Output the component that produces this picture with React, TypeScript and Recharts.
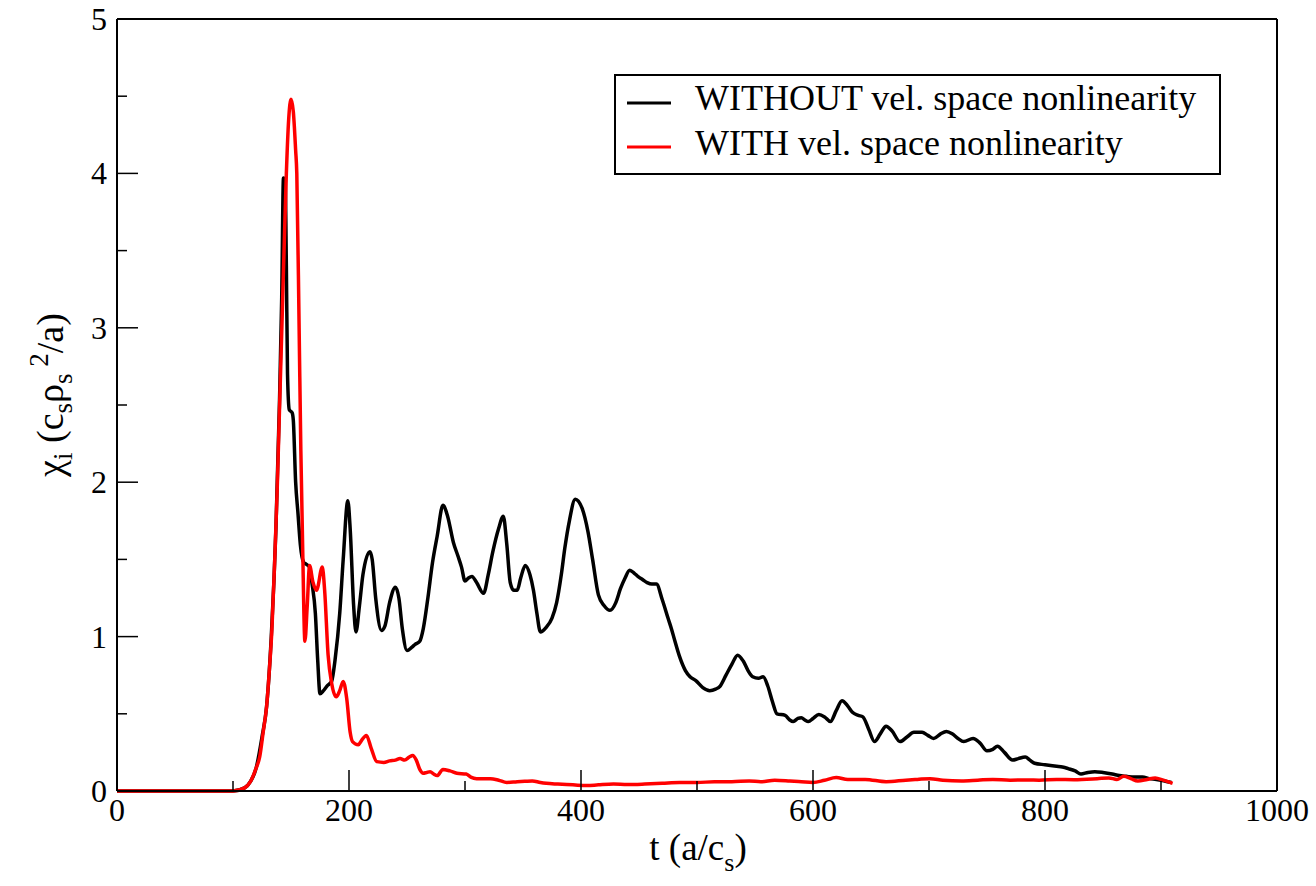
import { LineChart, Line, XAxis, YAxis, Legend, Label } from 'recharts';

// time (a/c_s) and chi_i values
const withoutT = [
    0, 100, 110, 115, 120, 125, 129, 133, 137, 140, 142, 143.5, 145, 146, 147, 148.5, 151, 152, 154, 156,
    158, 161, 163, 166, 168, 171, 173, 175, 178, 181, 185, 188, 192, 195, 199, 201, 204, 206, 209, 212,
    218, 220, 223, 228, 231, 235, 240, 243, 246, 250, 254, 257, 261, 264, 268, 272, 276, 281, 285, 290,
    294, 297, 300, 303, 306, 310, 316, 320, 324, 329, 333, 336, 339, 342, 345, 348, 352, 356, 359, 362,
    365, 370, 375, 379, 383, 386, 390, 395, 401, 406, 410, 415, 420, 425, 430, 434, 438, 442, 446, 449,
    453, 457, 461, 465, 470, 475, 478, 481, 485, 490, 494, 499, 505, 511, 516, 520, 525, 530, 535, 540,
    544, 548, 553, 557, 561, 565, 569, 576, 580, 583, 587, 590, 593, 596, 600, 605, 610, 615, 620, 625,
    630, 634, 639, 643, 648, 653, 658, 663, 668, 675, 681, 687, 694, 699, 704, 710, 715, 720, 725, 730,
    738, 744, 750, 755, 759, 765, 772, 777, 783, 787, 791, 800, 810, 815, 820, 826, 831, 837, 843, 850,
    858, 864, 870, 877, 884, 890, 896, 903, 909,
];
const withoutChi = [
    0, 0, 0.02, 0.06, 0.15, 0.35, 0.55, 1.0, 1.7, 2.5, 3.2, 3.97, 3.95, 3.4, 2.7, 2.47, 2.45, 2.4, 2.0, 1.8,
    1.6, 1.48, 1.47, 1.45, 1.35, 1.15, 0.85, 0.63, 0.65, 0.68, 0.71, 0.85, 1.15, 1.5, 1.88, 1.7, 1.2, 1.03, 1.2, 1.4,
    1.55, 1.5, 1.25, 1.04, 1.07, 1.22, 1.32, 1.25, 1.05, 0.91, 0.93, 0.95, 0.97, 1.05, 1.25, 1.48, 1.65, 1.85, 1.78, 1.61,
    1.52, 1.45, 1.36, 1.38, 1.39, 1.35, 1.28, 1.4, 1.55, 1.7, 1.78, 1.6, 1.35, 1.3, 1.3, 1.38, 1.46, 1.4, 1.3, 1.15,
    1.03, 1.06, 1.12, 1.22, 1.4, 1.57, 1.75, 1.89, 1.83, 1.68, 1.5, 1.27, 1.2, 1.17, 1.22, 1.31, 1.38, 1.43, 1.41, 1.39,
    1.37, 1.35, 1.34, 1.34, 1.24, 1.12, 1.05, 0.97, 0.87, 0.78, 0.74, 0.715, 0.67, 0.65, 0.66, 0.68, 0.75, 0.82, 0.88, 0.84,
    0.78, 0.74, 0.73, 0.74, 0.68, 0.58, 0.5, 0.49, 0.46, 0.45, 0.47, 0.475, 0.46, 0.45, 0.47, 0.495, 0.48, 0.45, 0.52, 0.585,
    0.55, 0.51, 0.49, 0.48, 0.4, 0.32, 0.37, 0.42, 0.39, 0.32, 0.35, 0.38, 0.38, 0.36, 0.34, 0.37, 0.385, 0.37, 0.34, 0.32,
    0.34, 0.31, 0.26, 0.27, 0.29, 0.25, 0.2, 0.21, 0.22, 0.2, 0.18, 0.17, 0.16, 0.155, 0.145, 0.13, 0.11, 0.12, 0.125, 0.12,
    0.11, 0.1, 0.095, 0.09, 0.09, 0.08, 0.075, 0.065, 0.055,
];

const withT = [
    0, 100, 110, 115, 120, 123, 126, 129, 131.5, 133.5, 136, 138, 140, 142, 144, 146, 148, 150, 152, 154,
    155, 157, 158.5, 160, 162, 164, 166, 169, 172, 177, 179, 182, 185, 189, 192, 195, 198, 201, 203, 208,
    211, 215, 219, 224, 230, 235, 240, 244, 248, 252, 255, 258, 261, 264, 267, 270, 273, 276, 281, 287,
    293, 301, 305, 310, 316, 322, 329, 336, 345, 352, 358, 365, 370, 380, 393, 405, 415, 428, 440, 455,
    470, 485, 500, 515, 530, 545, 555, 567, 580, 590, 600, 610, 620, 630, 645, 663, 680, 690, 701, 712,
    728, 742, 755, 770, 785, 795, 810, 825, 845, 855, 862, 868, 874, 880, 888, 895, 902, 910,
];
const withChi = [
    0, 0, 0.02, 0.06, 0.15, 0.22, 0.38, 0.55, 0.8, 1.04, 1.5, 1.93, 2.45, 2.97, 3.5, 4.0, 4.35, 4.48, 4.4, 4.15,
    4.0, 3.0, 2.2, 1.6, 0.97, 1.2, 1.46, 1.35, 1.3, 1.45, 1.3, 0.88, 0.7, 0.61, 0.65, 0.71, 0.6, 0.38, 0.32, 0.3,
    0.33, 0.36, 0.28, 0.19, 0.185, 0.195, 0.2, 0.21, 0.2, 0.22, 0.23, 0.2, 0.14, 0.115, 0.12, 0.125, 0.11, 0.1, 0.14, 0.13,
    0.115, 0.11, 0.09, 0.08, 0.08, 0.08, 0.07, 0.055, 0.06, 0.063, 0.065, 0.055, 0.05, 0.045, 0.04, 0.035, 0.04, 0.045, 0.042, 0.045,
    0.05, 0.055, 0.055, 0.06, 0.06, 0.065, 0.06, 0.07, 0.065, 0.06, 0.055, 0.07, 0.087, 0.075, 0.075, 0.06, 0.07, 0.075, 0.08, 0.07,
    0.065, 0.07, 0.075, 0.07, 0.072, 0.07, 0.075, 0.073, 0.08, 0.085, 0.075, 0.095, 0.08, 0.065, 0.075, 0.085, 0.07, 0.05,
];

const seriesNames = ['WITHOUT vel. space nonlinearity', 'WITH vel. space nonlinearity'];
const seriesColors = ['#000000', '#ff0000'];
const xTicks = [0, 100, 200, 300, 400, 500, 600, 700, 800, 900, 1000];
const yTicks = [0, 0.5, 1, 1.5, 2, 2.5, 3, 3.5, 4, 4.5, 5];

const withoutData = withoutT.map((t, i) => ({ t, chi: withoutChi[i] }));
const withData = withT.map((t, i) => ({ t, chi: withChi[i] }));

const FONT = {
    fontFamily: "'Liberation Serif', 'DejaVu Serif', 'Noto Serif', Tinos, FreeSerif, 'Times New Roman', Times, serif",
};
const MAJOR = 21;
const MINOR = 10;

const BottomTick = ({ x, y, payload }: any) => {
    const major = payload.value % 200 === 0;
    return (
        <g>
            <line x1={x} y1={y} x2={x} y2={y - (major ? MAJOR : MINOR)} stroke="#000" strokeWidth={1.5} />
            {major && (
                <text x={x} y={y + 30} textAnchor="middle" fontSize={32} style={FONT} fill="#000">
                    {payload.value}
                </text>
            )}
        </g>
    );
};

const TopTick = ({ x, y, payload }: any) => {
    const major = payload.value % 200 === 0;
    return <line x1={x} y1={y} x2={x} y2={y + (major ? MAJOR : MINOR)} stroke="#000" strokeWidth={1.5} />;
};

const LeftTick = ({ x, y, payload }: any) => {
    const major = payload.value % 1 === 0;
    return (
        <g>
            <line x1={x} y1={y} x2={x + (major ? MAJOR : MINOR)} y2={y} stroke="#000" strokeWidth={1.5} />
            {major && (
                <text x={x - 10} y={y + 11} textAnchor="end" fontSize={32} style={FONT} fill="#000">
                    {payload.value}
                </text>
            )}
        </g>
    );
};

const RightTick = ({ x, y, payload }: any) => {
    const major = payload.value % 1 === 0;
    return <line x1={x} y1={y} x2={x - (major ? MAJOR : MINOR)} y2={y} stroke="#000" strokeWidth={1.5} />;
};

const XTitle = () => (
    <text x={698} y={860} textAnchor="middle" fontSize={37} style={FONT} fill="#000">
        t (a/c<tspan dy={11} fontSize={26}>s</tspan><tspan dy={-11}>)</tspan>
    </text>
);

const YTitle = () => (
    <text transform="translate(63, 395) rotate(-90)" textAnchor="middle" fontSize={38} style={FONT} fill="#000">
        χ<tspan dy={9} fontSize={27}>i</tspan>
        <tspan dy={-9}> (c</tspan>
        <tspan dy={9} fontSize={27}>s</tspan>
        <tspan dy={-9}>ρ</tspan>
        <tspan dy={9} fontSize={27}>s</tspan>
        <tspan dy={-24} fontSize={27}> 2</tspan>
        <tspan dy={15}>/a)</tspan>
    </text>
);

const LegendBox = () => (
    <div style={{ width: 607, height: 101, border: '2px solid #000', boxSizing: 'border-box', background: '#fff' }}>
        <svg width={603} height={97} style={{ display: 'block' }}>
            {seriesNames.map((name, i) => (
                <g key={name}>
                    <line x1={11} x2={55} y1={27 + i * 44} y2={27 + i * 44} stroke={seriesColors[i]} strokeWidth={3} />
                    <text x={79} y={34 + i * 45} fontSize={36} style={FONT} fill="#000">
                        {name}
                    </text>
                </g>
            ))}
        </svg>
    </div>
);

export default function App() {
    return (
        <div style={{ position: 'absolute', left: 0, top: 0, background: '#fff' }}>
            <LineChart width={1316} height={886} margin={{ top: 0, right: 0, bottom: 0, left: 0 }}>
                <XAxis
                    xAxisId="b"
                    dataKey="t"
                    type="number"
                    domain={[0, 1000]}
                    ticks={xTicks}
                    height={95}
                    tickSize={0}
                    tickMargin={0}
                    tickLine={false}
                    tick={<BottomTick />}
                    axisLine={{ stroke: '#000', strokeWidth: 2 }}
                    interval={0}
                >
                    <Label content={<XTitle />} />
                </XAxis>
                <XAxis
                    xAxisId="t"
                    orientation="top"
                    dataKey="t"
                    type="number"
                    domain={[0, 1000]}
                    ticks={xTicks}
                    height={19}
                    tickSize={0}
                    tickMargin={0}
                    tickLine={false}
                    tick={<TopTick />}
                    axisLine={{ stroke: '#000', strokeWidth: 2 }}
                    interval={0}
                />
                <YAxis
                    yAxisId="l"
                    type="number"
                    domain={[0, 5]}
                    ticks={yTicks}
                    width={117}
                    tickSize={0}
                    tickMargin={0}
                    tickLine={false}
                    tick={<LeftTick />}
                    axisLine={{ stroke: '#000', strokeWidth: 2 }}
                    interval={0}
                >
                    <Label content={<YTitle />} />
                </YAxis>
                <YAxis
                    yAxisId="r"
                    orientation="right"
                    type="number"
                    domain={[0, 5]}
                    ticks={yTicks}
                    width={39}
                    tickSize={0}
                    tickMargin={0}
                    tickLine={false}
                    tick={<RightTick />}
                    axisLine={{ stroke: '#000', strokeWidth: 2 }}
                    interval={0}
                />
                <Legend
                    layout="horizontal"
                    verticalAlign="middle"
                    align="center"
                    content={<LegendBox />}
                    wrapperStyle={{ position: 'absolute', left: 614, top: 74, width: 607, height: 101 }}
                />
                <Line
                    xAxisId="b"
                    yAxisId="l"
                    data={withoutData}
                    dataKey="chi"
                    name={seriesNames[0]}
                    type="monotone"
                    stroke={seriesColors[0]}
                    strokeWidth={3.5}
                    dot={false}
                    isAnimationActive={false}
                />
                <Line
                    xAxisId="b"
                    yAxisId="l"
                    data={withData}
                    dataKey="chi"
                    name={seriesNames[1]}
                    type="monotone"
                    stroke={seriesColors[1]}
                    strokeWidth={3.5}
                    dot={false}
                    isAnimationActive={false}
                />
            </LineChart>
        </div>
    );
}
